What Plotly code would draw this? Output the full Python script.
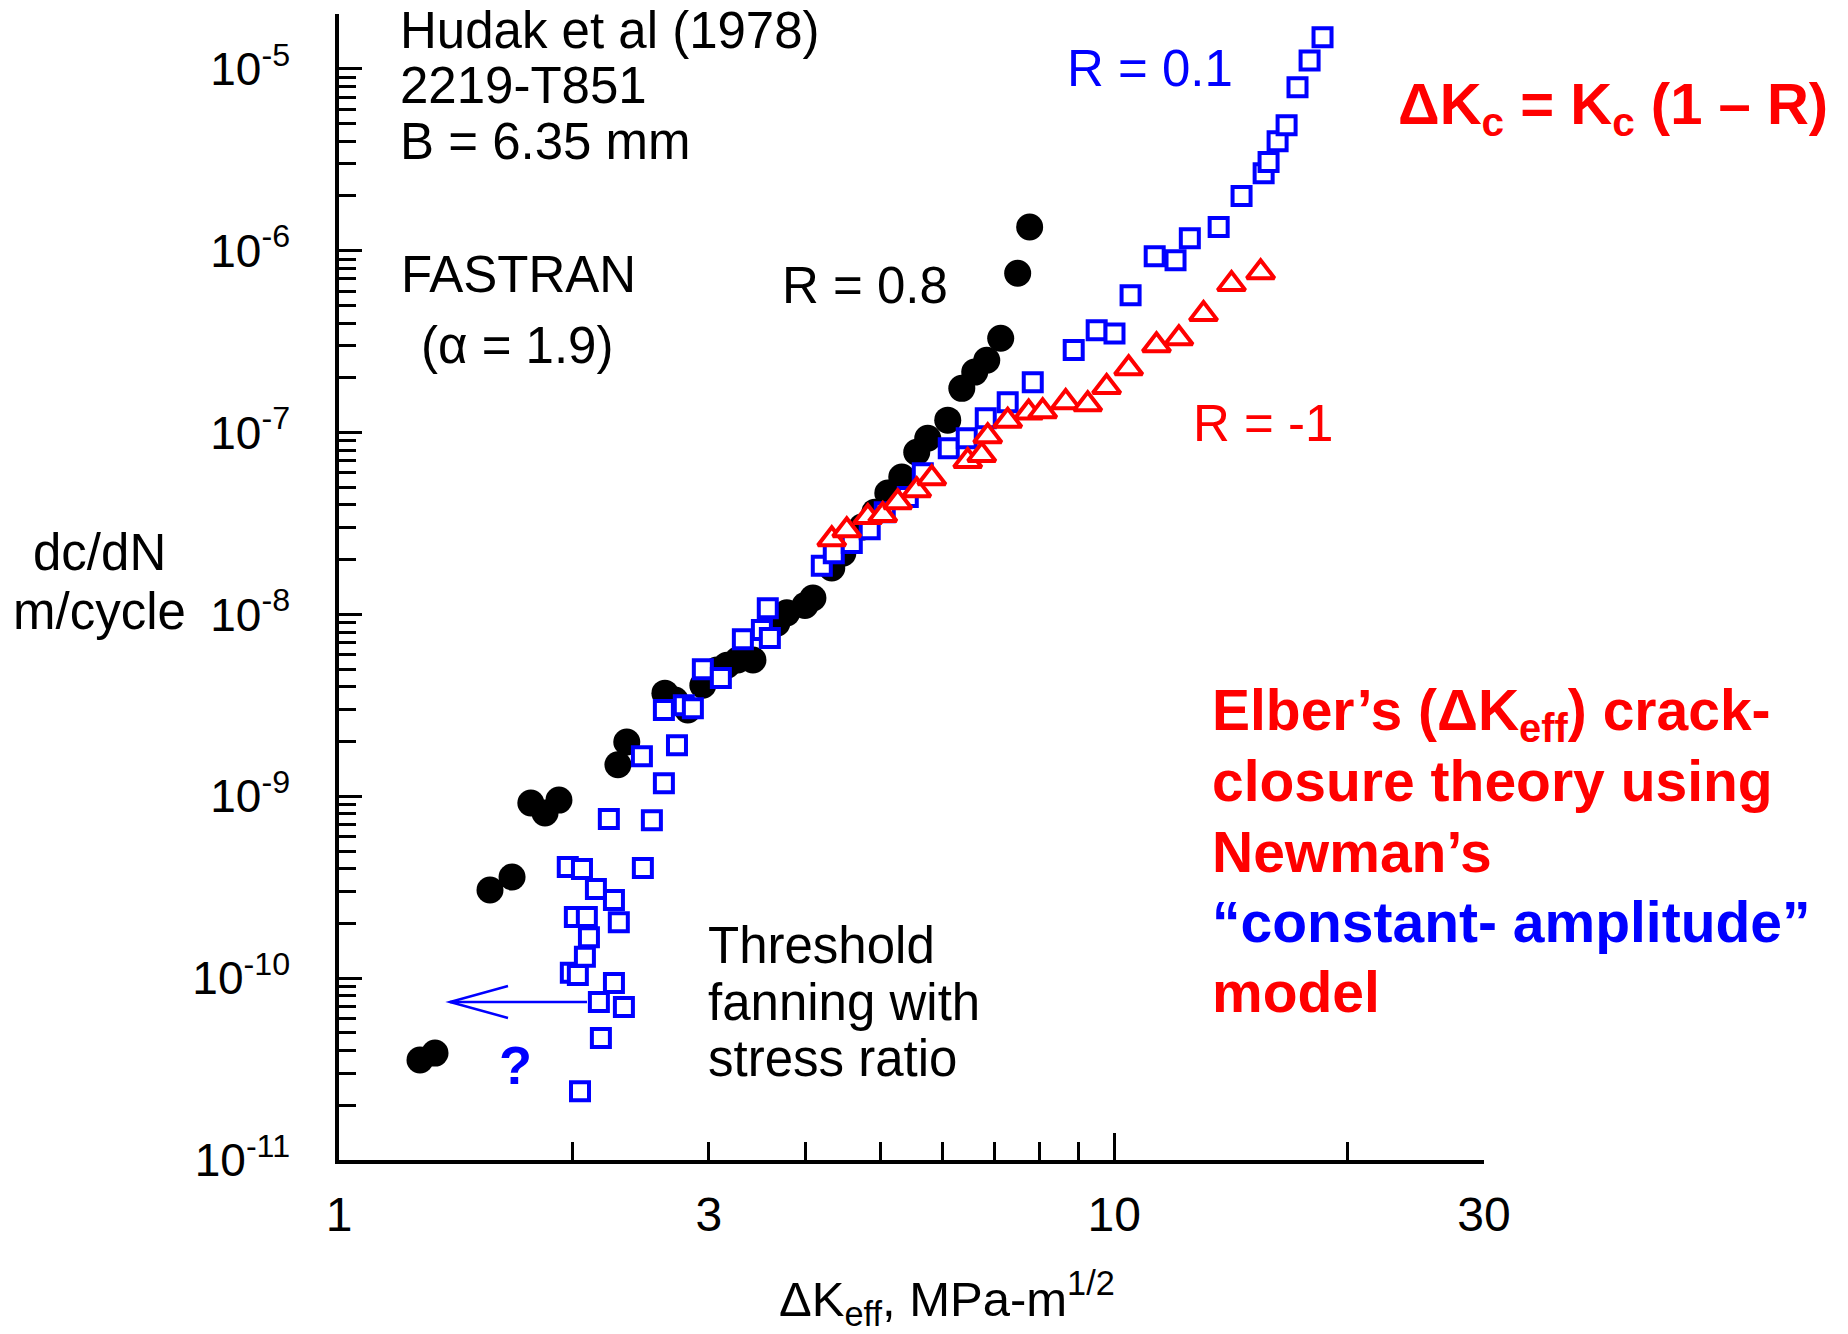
import math
import plotly.graph_objects as go

# Crack-growth rate data (Hudak et al, 2219-T851, B = 6.35 mm), FASTRAN alpha = 1.9
# R = 0.8 (filled circles)
dk_r08 = [1.272, 1.330, 1.566, 1.672, 1.768, 1.844, 1.922, 2.290, 2.351, 2.633,
          2.713, 2.818, 2.947, 3.072, 3.166, 3.269, 3.420, 3.671, 3.782, 3.991,
          4.087, 4.322, 4.466, 4.726, 4.912, 5.105, 5.321, 5.563, 5.748, 6.100,
          6.360, 6.609, 6.849, 7.139, 7.508, 7.780]
rate_r08 = [3.55e-11, 3.87e-11, 3.05e-10, 3.60e-10, 9.18e-10, 8.09e-10, 9.53e-10, 1.49e-9, 1.99e-9, 3.69e-9,
            3.38e-9, 2.98e-9, 4.08e-9, 4.94e-9, 5.26e-9, 5.61e-9, 5.61e-9, 8.95e-9, 1.02e-8, 1.12e-8,
            1.23e-8, 1.80e-8, 2.17e-8, 3.02e-8, 3.65e-8, 4.65e-8, 5.69e-8, 7.80e-8, 9.31e-8, 1.17e-7,
            1.75e-7, 2.15e-7, 2.50e-7, 3.30e-7, 7.52e-7, 1.35e-6]

# R = 0.1 (open squares)
dk_r01 = [2.046, 2.177, 2.164, 2.331, 2.263, 1.991, 2.033, 2.076, 2.101, 2.015,
          2.088, 2.296, 2.263, 2.145, 1.973, 2.058, 2.466, 2.229, 2.533, 2.625,
          2.459, 2.729, 2.625, 2.785, 2.861, 2.947, 3.109, 3.319, 3.512, 3.596,
          3.574, 4.196, 4.348, 4.587, 4.838, 5.059, 5.417, 5.664, 6.118, 6.454,
          6.829, 7.289, 7.852, 8.868, 9.494, 10.01, 10.50, 11.28, 12.00, 12.52,
          13.64, 14.60, 15.59, 15.82, 16.25, 16.69, 17.24, 17.87, 18.57]
rate_r01 = [2.39e-11, 4.69e-11, 7.39e-11, 6.93e-11, 9.40e-11, 1.07e-10, 1.04e-10, 1.31e-10, 1.68e-10, 2.17e-10,
            2.17e-10, 2.03e-10, 2.69e-10, 3.09e-10, 4.08e-10, 3.98e-10, 4.03e-10, 7.50e-10, 7.39e-10, 1.18e-9,
            1.66e-9, 1.91e-9, 2.98e-9, 3.17e-9, 3.05e-9, 5.00e-9, 4.47e-9, 7.31e-9, 8.20e-9, 7.41e-9,
            1.08e-8, 1.85e-8, 2.17e-8, 2.47e-8, 2.94e-8, 3.65e-8, 4.42e-8, 5.98e-8, 8.20e-8, 9.31e-8,
            1.20e-7, 1.47e-7, 1.89e-7, 2.84e-7, 3.65e-7, 3.51e-7, 5.69e-7, 9.33e-7, 8.87e-7, 1.17e-6,
            1.35e-6, 2.00e-6, 2.67e-6, 3.07e-6, 4.00e-6, 4.90e-6, 7.92e-6, 1.11e-5, 1.49e-5]

# R = -1 (open triangles)
dk_rm1 = [4.322, 4.519, 4.811, 5.029, 5.258, 5.563, 5.817, 6.473, 6.748, 6.869,
          7.289, 7.757, 8.087, 8.659, 9.245, 9.779, 10.44, 11.34, 12.12, 13.04,
          14.17, 15.45]
rate_rm1 = [2.59e-8, 2.90e-8, 3.43e-8, 3.52e-8, 4.14e-8, 4.82e-8, 5.61e-8, 6.97e-8, 7.52e-8, 9.55e-8,
            1.16e-7, 1.29e-7, 1.31e-7, 1.47e-7, 1.43e-7, 1.78e-7, 2.26e-7, 3.02e-7, 3.30e-7, 4.48e-7,
            6.55e-7, 7.62e-7]

# Axis ticks
x_tick_vals = [1, 3, 10, 30]
x_tick_text = ["1", "3", "10", "30"]
x_minor_vals = [2, 4, 5, 6, 7, 8, 9, 20]
y_tick_exps = [-11, -10, -9, -8, -7, -6, -5]
y_tick_vals = [10.0 ** e for e in y_tick_exps]
y_tick_text = [f"10<sup>{e}</sup>" for e in y_tick_exps]
y_minor_vals = [m * 10.0 ** e for e in range(-11, -4) for m in range(2, 10) if m * 10.0 ** e <= 2.0e-5]

FONT = "Liberation Sans, Arial, sans-serif"
W, H = 1848, 1334
L, R, T, B = 339, 1484, 14, 1160   # plot-area edges in page pixels

x_range = [0, math.log10(30)]
y_range = [-11, math.log10(2e-5) + 0.0005]


def px(x):
    return (x - L) / (R - L)


def py(y):
    return (B - y) / (B - T)


fig = go.Figure()

fig.add_trace(go.Scatter(
    x=dk_r08, y=rate_r08, mode="markers", name="R = 0.8",
    marker=dict(symbol="circle", size=27, color="black", line=dict(width=0)),
))
fig.add_trace(go.Scatter(
    x=dk_r01, y=rate_r01, mode="markers", name="R = 0.1",
    marker=dict(symbol="square", size=18, color="white", line=dict(width=4, color="#0000ff")),
))
fig.add_trace(go.Scatter(
    x=dk_rm1, y=rate_rm1, mode="markers", name="R = -1",
    marker=dict(symbol="triangle-up", size=24, color="white", line=dict(width=4, color="#ff0000")),
))
# empty trace that carries the overlay axis used for the long tick at 10
fig.add_trace(go.Scatter(x=[], y=[], xaxis="x2", yaxis="y", showlegend=False, hoverinfo="skip"))

annotations = []


def text(s, x, y, size=51, color="black", xanchor="left"):
    annotations.append(dict(
        text=s, x=px(x), y=py(y), xref="paper", yref="paper",
        xanchor=xanchor, yanchor="middle", showarrow=False,
        borderpad=0, borderwidth=0,
        font=dict(family=FONT, size=size, color=color),
    ))


# Source / model notes
text("Hudak et al (1978)", 400, 31)
text("2219-T851", 400, 86)
text("B = 6.35 mm", 400, 141)
text("FASTRAN", 401, 274)
text("(α = 1.9)", 421, 345)

# Series labels
text("R = 0.8", 865, 286, xanchor="center")
text("R = 0.1", 1150, 69, color="#0000ff", xanchor="center")
text("R = -1", 1263, 423, color="#ff0000", xanchor="center")

text("<b>ΔK<sub>c</sub> = K<sub>c</sub> (1 – R)</b>", 1398, 108, size=58, color="#ff0000")

text("<b>Elber’s (ΔK<sub>eff</sub>) crack-</b>", 1212, 714, size=57, color="#ff0000")
text("<b>closure theory using</b>", 1212, 781, size=57, color="#ff0000")
text("<b>Newman’s</b>", 1212, 852, size=57, color="#ff0000")
text("<b>“constant- amplitude”</b>", 1212, 922, size=57, color="#0000ff")
text("<b>model</b>", 1212, 992, size=57, color="#ff0000")

text("Threshold", 708, 945)
text("fanning with", 708, 1002)
text("stress ratio", 708, 1058)
text("<b>?</b>", 515, 1065, size=54, color="#0000ff", xanchor="center")

# Axis titles
text("dc/dN", 99, 553, xanchor="center")
text("m/cycle", 99, 611, xanchor="center")
text("ΔK<sub>eff</sub>, MPa-m<sup>1/2</sup>", 947, 1298, size=49, xanchor="center")

# Arrow pointing toward lower ΔK at threshold
arrow_shaft = dict(type="line", xref="paper", yref="paper",
                   x0=px(587), y0=py(1002), x1=px(450), y1=py(1002),
                   line=dict(color="#0000ff", width=2.5))
arrow_head = dict(type="path", xref="paper", yref="paper",
                  path=f"M {px(508)},{py(986)} L {px(450)},{py(1002)} L {px(508)},{py(1018)}",
                  line=dict(color="#0000ff", width=2.5))

fig.update_layout(
    width=W, height=H,
    margin=dict(l=L, r=W - R, t=T, b=H - B, pad=0),
    paper_bgcolor="white", plot_bgcolor="white",
    showlegend=False,
    font=dict(family=FONT, size=46, color="black"),
    annotations=annotations,
    shapes=[arrow_shaft, arrow_head],
    xaxis=dict(
        type="log", range=x_range, showgrid=False, zeroline=False,
        showline=True, linecolor="black", linewidth=3.5, mirror=False,
        ticks="inside", ticklen=18, tickwidth=3, tickcolor="black",
        tickmode="array", tickvals=x_tick_vals, ticktext=x_tick_text,
        tickfont=dict(family=FONT, size=48), ticklabelstandoff=10,
        minor=dict(ticks="inside", ticklen=18, tickwidth=3, tickcolor="black",
                   tickmode="array", tickvals=x_minor_vals, showgrid=False),
    ),
    xaxis2=dict(
        type="log", range=x_range, overlaying="x", anchor="y", side="bottom",
        showgrid=False, zeroline=False, showline=False,
        ticks="inside", ticklen=27, tickwidth=3, tickcolor="black",
        tickmode="array", tickvals=[10], showticklabels=False,
    ),
    yaxis=dict(
        type="log", range=y_range, showgrid=False, zeroline=False,
        showline=True, linecolor="black", linewidth=3.5, mirror=False,
        ticks="inside", ticklen=23, tickwidth=3, tickcolor="black",
        tickmode="array", tickvals=y_tick_vals, ticktext=y_tick_text,
        tickfont=dict(family=FONT, size=46), ticklabelstandoff=36,
        minor=dict(ticks="inside", ticklen=17, tickwidth=3, tickcolor="black",
                   tickmode="array", tickvals=y_minor_vals, showgrid=False),
    ),
)

fig.write_html("out.html")
